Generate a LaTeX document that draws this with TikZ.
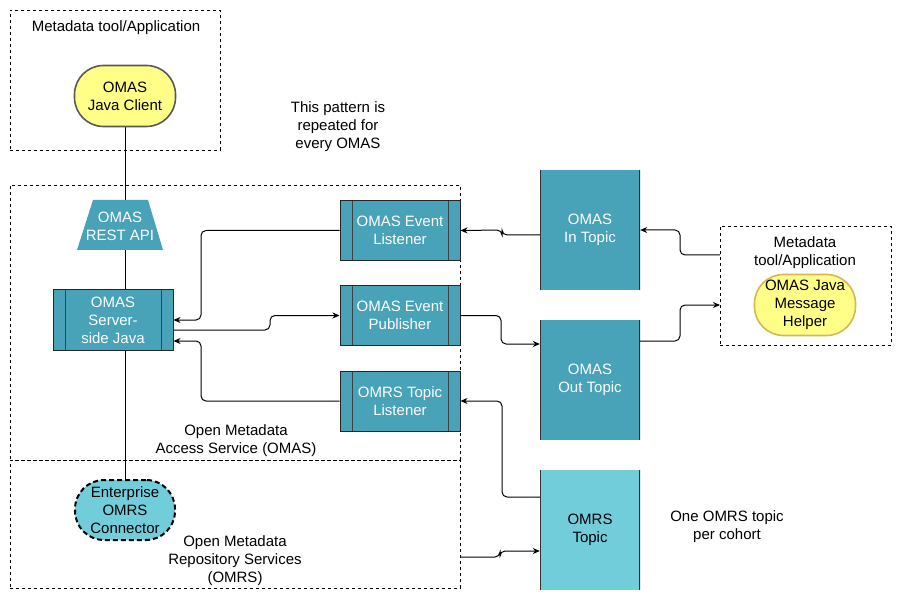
\documentclass[tikz,border=0pt]{standalone}
\usepackage{fontspec}
\setmainfont{Liberation Sans}
\usepackage{tikz}
\usetikzlibrary{arrows.meta,backgrounds}

\definecolor{omasteal}{HTML}{48A2B8}
\definecolor{omrscyan}{HTML}{72CDDB}
\definecolor{clientyellow}{HTML}{FFFF88}
\definecolor{helperedge}{HTML}{D6B656}

\tikzset{
  every node/.style={font=\fontsize{15}{18}\selectfont, align=center},
  region/.style={draw, dash pattern=on 3pt off 3pt, line width=0.8pt,
    anchor=north west, inner sep=0pt},
  process/.style={draw=black!85, line width=1pt, fill=omasteal, text=white,
    minimum width=120pt, minimum height=60pt, inner sep=0pt,
    path picture={\draw[black!75, line width=1pt]
      ([xshift=12pt]path picture bounding box.north west) --
      ([xshift=12pt]path picture bounding box.south west)
      ([xshift=-12pt]path picture bounding box.north east) --
      ([xshift=-12pt]path picture bounding box.south east);}},
  topic/.style={fill=#1, minimum width=100pt, minimum height=120pt, inner sep=0pt,
    path picture={\draw[black!80, line width=2pt]
      (path picture bounding box.north west) -- (path picture bounding box.south west)
      (path picture bounding box.north east) -- (path picture bounding box.south east);}},
  pill/.style={rounded corners=29pt, minimum width=101pt, minimum height=61pt,
    inner sep=0pt, line width=1.6pt},
  flow/.style={-{Stealth[length=7pt,width=6pt]}, rounded corners=5pt, line width=1pt},
}

\begin{document}
\begin{tikzpicture}[x=1pt, y=-1pt]
    \useasboundingbox (0,0) rectangle (901,601);

    % tool on top
    \node[region, minimum width=210pt, minimum height=140pt] (toolbox) at (10,10) {};
    \node (tooltitle) at (116,28) {Metadata tool/Application};
    \node[pill, draw=black!65, fill=clientyellow] (client) at (125,96) {OMAS\\Java Client};

    \node (pattern) at (338,127) {This pattern is\\repeated for\\every OMAS};

    % access service and repository services
    \node[region, minimum width=450pt, minimum height=275pt] (omasregion) at (10,185) {};
    \node[region, minimum width=450pt, minimum height=128pt] (omrsregion) at (10,460) {};
    \node (omaslabel) at (236,441) {Open Metadata\\Access Service (OMAS)};
    \node (omrslabel) at (235,561) {Open Metadata\\Repository Services\\(OMRS)};

    \fill[omasteal] (93,200) -- (148,200) -- (163,250) -- (77,250) -- cycle;
    \node[text=white] (api) at (120,226) {OMAS\\REST API};
    \node[process] (server) at (113,320) {OMAS\\Server-\\side Java};
    \node[pill, draw, dash pattern=on 5pt off 3pt, line width=2pt, fill=omrscyan,
      minimum width=100pt, minimum height=60pt] (conn) at (125,510) {Enterprise\\OMRS\\Connector};

    \node[process] (evlisten) at (400,230.5) {OMAS Event\\Listener};
    \node[process] (evpub) at (400,315.5) {OMAS Event\\Publisher};
    \node[process] (omrslisten) at (400,401) {OMRS Topic\\Listener};

    % topics
    \node[topic=omasteal, text=white] (intopic) at (590,230) {OMAS\\In Topic};
    \node[topic=omasteal, text=white] (outtopic) at (590,380) {OMAS\\Out Topic};
    \node[topic=omrscyan] (omrstopic) at (590,530) {OMRS\\Topic};
    \node (cohort) at (727,527) {One OMRS topic\\per cohort};

    % tool on the right
    \node[region, minimum width=171pt, minimum height=119pt] (apptool) at (720,226) {};
    \node (apptitle) at (805,253) {Metadata\\tool/Application};
    \node[pill, draw=helperedge, fill=clientyellow] (helper) at (805,305) {OMAS Java\\Message\\Helper};

    \begin{scope}[on background layer]
      \draw[line width=1pt] (client.south) -- (conn.north);
    \end{scope}

    \draw[flow] (intopic.west |- 0,235) -- (502,235) -- (502,230) -- (evlisten.east);
    \draw[flow] (apptool.west |- 0,255) -- (680,255) -- (680,230) -- (intopic.east);
    \draw[flow] (outtopic.east |- 0,341) -- (680,341) -- (680,305) -- (apptool.west |- helper);
    \draw[flow] (evpub.east) -- (501,315.5) -- (501,344) -- (outtopic.west |- 0,344);
    \draw[flow] (omrstopic.west |- 0,497) -- (502,497) -- (502,401) -- (omrslisten.east);
    \draw[flow] (omrsregion.east |- 0,557) -- (500,557) -- (500,551) -- (omrstopic.west |- 0,551);
    \draw[flow] (evlisten.west) -- (201,230.5) -- (201,320) -- (server.east);
    \draw[flow] (server.east |- 0,330) -- (270,330) -- (270,315.5) -- (evpub.west);
    \draw[flow] (omrslisten.west) -- (201,401) -- (201,341) -- (server.east |- 0,341);
\end{tikzpicture}
\end{document}
